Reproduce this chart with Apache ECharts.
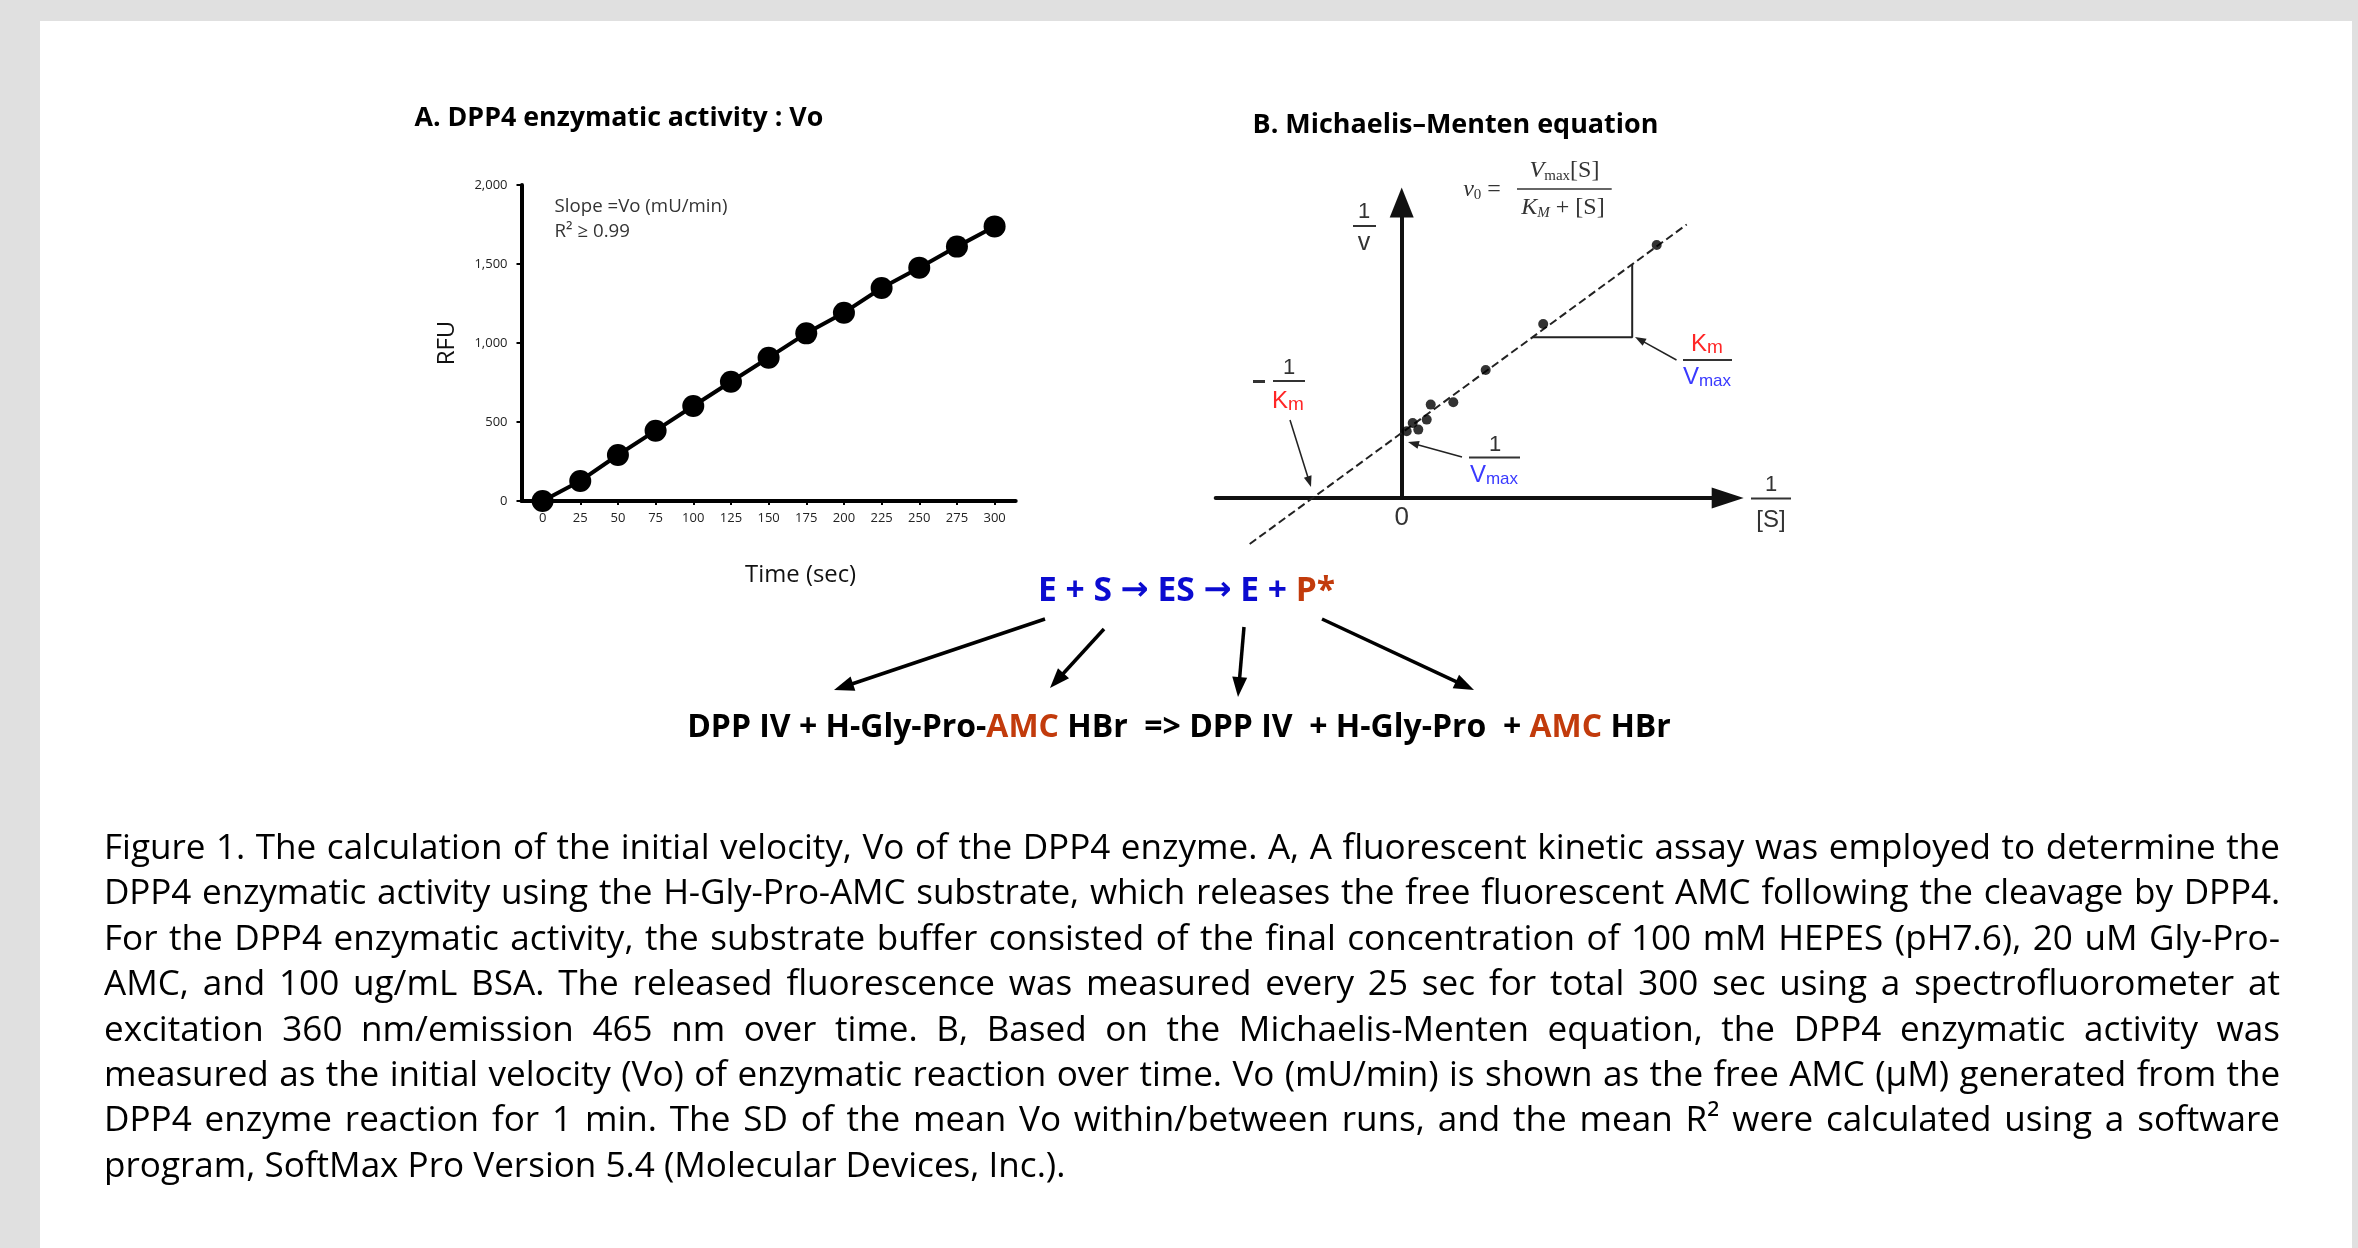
<!DOCTYPE html>
<html><head><meta charset="utf-8">
<script src="https://cdn.jsdelivr.net/npm/echarts@6/dist/echarts.min.js"></script>
<style>
html,body{margin:0;padding:0;background:#e0e0e0;overflow:hidden}
#chart{position:absolute;left:0;top:0;width:2358px;height:1248px}
#caption{position:absolute;left:0;top:0;width:2358px;height:1248px;pointer-events:none}
.cl{position:absolute;left:104px;width:2176px;height:45px;line-height:45px;text-align:justify;text-align-last:justify;color:#000;font-family:'Open Sans','Noto Sans',sans-serif;white-space:nowrap}
</style></head><body>
<div id="chart"></div><div id="caption"></div>
<script>
// ---------- data ----------
const timeSec = [0,25,50,75,100,125,150,175,200,225,250,275,300];
const rfu = [0,127,291,445,601,755,907,1061,1192,1348,1477,1610,1738];
const rfuTicks = [0,500,1000,1500,2000];
const invS = [2.55,1.415,0.84,0.516,0.29,0.25,0.166,0.11,0.05];
const invV = [2.53,1.74,1.28,0.957,0.934,0.784,0.684,0.75,0.667];
const fitInvS = [-1.52, 2.85];
const fitInvV = [-0.46, 2.735];
const slopeInvS = [1.305, 2.305, 2.305];
const slopeInvV = [1.607, 1.607, 2.34];
const captionLines = [
 "Figure 1. The calculation of the initial velocity, Vo of the DPP4 enzyme. A, A fluorescent kinetic assay was employed to determine the",
 "DPP4 enzymatic activity using the H-Gly-Pro-AMC substrate, which releases the free fluorescent AMC following the cleavage by DPP4.",
 "For the DPP4 enzymatic activity, the substrate buffer consisted of the final concentration of 100 mM HEPES (pH7.6), 20 uM Gly-Pro-",
 "AMC, and 100 ug/mL BSA. The released fluorescence was measured every 25 sec for total 300 sec using a spectrofluorometer at",
 "excitation 360 nm/emission 465 nm over time. B, Based on the Michaelis-Menten equation, the DPP4 enzymatic activity was",
 "measured as the initial velocity (Vo) of enzymatic reaction over time. Vo (mU/min) is shown as the free AMC (\u03bcM) generated from the",
 "DPP4 enzyme reaction for 1 min. The SD of the mean Vo within/between runs, and the mean R\u00b2 were calculated using a software",
 "program, SoftMax Pro Version 5.4 (Molecular Devices, Inc.)."
];
const captionCenters = [845, 890, 936, 981, 1027, 1072, 1117, 1163];

// ---------- helpers ----------
const CAL = "'Open Sans','Noto Sans',sans-serif";
const ARI = "'Liberation Sans',Arial,sans-serif";
const SER = "'Liberation Serif','DejaVu Serif',serif";
const ARR = "'DejaVu Sans',sans-serif";
const RED = '#ff2626', BLUE = '#3a3aff', DARK = '#333333';
const RBLUE = '#0b0bd0', ORG = '#c23b0c';
const mctx = document.createElement('canvas').getContext('2d');
function tw(t, size, weight, family, fstyle){ mctx.font = (fstyle||'normal')+' '+(weight||'normal')+' '+size+'px '+family; return mctx.measureText(t).width; }
function fitSize(t, weight, family, target){ return 100*target/tw(t,100,weight,family); }
function txt(x,y,t,o){ return {type:'text', x:x, y:y, z:10, style:Object.assign({text:t, fill:'#000', fontSize:20, fontFamily:CAL, align:'left', verticalAlign:'middle'}, o||{})}; }
function seg(x1,y1,x2,y2,w,c){ return {type:'line', z:10, shape:{x1:x1,y1:y1,x2:x2,y2:y2}, style:{stroke:c||'#000', lineWidth:w}}; }
function seq(cx, cy, parts){
  const ws = parts.map(p=>tw(p.t,p.size,p.weight,p.family||ARI,p.fstyle));
  let x = cx - ws.reduce((a,b)=>a+b,0)/2;
  return parts.map((p,i)=>{ const e = txt(x, cy+(p.dy||0), p.t, {fill:p.fill||DARK, fontSize:p.size, fontFamily:p.family||ARI, fontWeight:p.weight||'normal', fontStyle:p.fstyle||'normal'}); x+=ws[i]; return e; });
}
function arrow(x1,y1,x2,y2,lw,hl,hw,c){
  const dx=x2-x1, dy=y2-y1, L=Math.hypot(dx,dy), ux=dx/L, uy=dy/L;
  const bx=x2-ux*hl, by=y2-uy*hl, px=-uy, py=ux;
  return [
    seg(x1,y1,bx+ux*2,by+uy*2,lw,c),
    {type:'polygon', z:10, shape:{points:[[x2,y2],[bx+px*hw/2,by+py*hw/2],[bx-px*hw/2,by-py*hw/2]]}, style:{fill:c}}
  ];
}
const zip = (a,b)=>a.map((v,i)=>[v,b[i]]);

// ---------- caption (justified lines) ----------
(function(){
  const lastIdx = captionLines.length-1;
  let fs = 100*962/tw(captionLines[lastIdx],100,'normal',CAL);
  fs = Math.max(24, Math.min(36, fs));
  const cap = document.getElementById('caption');
  captionLines.forEach((t,i)=>{
    const d = document.createElement('div');
    d.className='cl';
    d.style.top = (captionCenters[i]-22.5)+'px';
    d.style.fontSize = fs+'px';
    if (i===lastIdx) { d.style.textAlignLast='left'; d.style.textAlign='left'; }
    else {
      const w = tw(t,fs,'normal',CAL);
      const lim = 2176*0.985;
      if (w > lim) d.style.letterSpacing = ((lim - w)/t.length).toFixed(3)+'px';
    }
    d.textContent = t;
    cap.appendChild(d);
  });
})();

// ---------- graphics ----------
const titleA = 'A. DPP4 enzymatic activity : Vo';
const titleB = 'B. Michaelis\u2013Menten equation';
const reactBot = 'DPP IV + H-Gly-Pro-AMC HBr  => DPP IV  + H-Gly-Pro  + AMC HBr';
const sTA = fitSize(titleA,'bold',CAL,409);
const sTB = fitSize(titleB,'bold',CAL,406);
const rtW100 = tw('E + S ',100,'bold',CAL)+tw(' ES ',100,'bold',CAL)+tw(' E + ',100,'bold',CAL)+tw('P*',100,'bold',CAL)+2*tw('\u2192',100,'bold',ARR);
const sRT = 100*297/rtW100;
const sRB = fitSize(reactBot,'bold',CAL,984);
const sSlope = fitSize('Slope =Vo (mU/min)','normal',CAL,173);
const sTime = fitSize('Time (sec)','normal',CAL,111);

let G = [
  {type:'rect', z:0, shape:{x:40,y:21,width:2312,height:1300}, style:{fill:'#ffffff'}},
  txt(414.5,118,titleA,{fontSize:sTA,fontWeight:'bold'}),
  txt(1252.6,125,titleB,{fontSize:sTB,fontWeight:'bold'}),
  txt(554.6,207,'Slope =Vo (mU/min)',{fontSize:sSlope,fill:'#333'}),
  txt(554.6,232,'R\u00b2 \u2265 0.99',{fontSize:sSlope,fill:'#333'}),
  {type:'text', x:1186.5, y:591, z:10, style:{text:'{b|E + S }{a|\u2192}{b| ES }{a|\u2192}{b| E + }{o|P*}', align:'center', verticalAlign:'middle',
    rich:{b:{fill:RBLUE,color:RBLUE,fontSize:sRT,fontWeight:'bold',fontFamily:CAL},
          a:{fill:RBLUE,color:RBLUE,fontSize:sRT,fontWeight:'bold',fontFamily:ARR},
          o:{fill:ORG,color:ORG,fontSize:sRT,fontWeight:'bold',fontFamily:CAL}}}},
  {type:'text', x:1179, y:728, z:10, style:{text:'{k|DPP IV + H-Gly-Pro-}{o|AMC}{k| HBr  => DPP IV  + H-Gly-Pro  + }{o|AMC}{k| HBr}', align:'center', verticalAlign:'middle',
    rich:{k:{fill:'#000',color:'#000',fontSize:sRB,fontWeight:'bold',fontFamily:CAL}, o:{fill:ORG,color:ORG,fontSize:sRB,fontWeight:'bold',fontFamily:CAL}}}}
];
// reaction arrows
G = G.concat(arrow(1045,619,834,690,3.5,20,15,'#000'));
G = G.concat(arrow(1104,629,1050,688,3.5,20,15,'#000'));
G = G.concat(arrow(1244,627,1238,697,3.5,20,15,'#000'));
G = G.concat(arrow(1322,619,1474,690,3.5,20,15,'#000'));
// panel B annotations
G = G.concat(seq(1364,212,[{t:'1',size:22}]));
G.push(seg(1353,226,1376,226,2,DARK));
G = G.concat(seq(1364,243,[{t:'v',size:25}]));
G.push(seg(1253,381.5,1265,381.5,3,DARK));
G = G.concat(seq(1289,368,[{t:'1',size:22}]));
G.push(seg(1273,381,1305,381,2,DARK));
G = G.concat(seq(1288,401,[{t:'K',size:24,fill:RED},{t:'m',size:19,fill:RED,dy:4}]));
G = G.concat(arrow(1290,420,1311,487,1.5,11,8,'#222'));
G = G.concat(seq(1401.7,517.5,[{t:'0',size:26}]));
G = G.concat(seq(1495,445,[{t:'1',size:22}]));
G.push(seg(1469,457.5,1520,457.5,2,DARK));
G = G.concat(seq(1494,475,[{t:'V',size:24,fill:BLUE},{t:'max',size:17,fill:BLUE,dy:4}]));
G = G.concat(arrow(1462,457,1408,442,1.5,11,8,'#222'));
G = G.concat(seq(1707,344,[{t:'K',size:24,fill:RED},{t:'m',size:19,fill:RED,dy:4}]));
G.push(seg(1683,360,1732,360,2,DARK));
G = G.concat(seq(1707,377,[{t:'V',size:24,fill:BLUE},{t:'max',size:17,fill:BLUE,dy:4}]));
G = G.concat(arrow(1676.5,360,1635,337,1.5,11,8,'#222'));
G = G.concat(seq(1771,485,[{t:'1',size:22}]));
G.push(seg(1751,498.5,1791,498.5,2,DARK));
G = G.concat(seq(1771,520,[{t:'[S]',size:24}]));
// equation v0 = Vmax[S]/(KM+[S])
G = G.concat(seq(1485,190,[{t:'v',size:24,family:SER,fstyle:'italic'},{t:'0',size:15,family:SER,dy:5},{t:' = ',size:24,family:SER}]));
G.push(seg(1517,189,1611.7,189,1.5,DARK));
G = G.concat(seq(1564.5,171,[{t:'V',size:24,family:SER,fstyle:'italic'},{t:'max',size:15,family:SER,dy:5},{t:'[S]',size:24,family:SER}]));
G = G.concat(seq(1563,208,[{t:'K',size:24,family:SER,fstyle:'italic'},{t:'M',size:15,family:SER,fstyle:'italic',dy:5},{t:' + [S]',size:24,family:SER}]));

// ---------- chart ----------
const chart = echarts.init(document.getElementById('chart'), null, {renderer:'canvas'});
chart.setOption({
  animation:false,
  backgroundColor:'#e0e0e0',
  grid:[
    {left:521.5, top:185, width:494.2, height:316},
    {left:1215.7, top:202.5, width:512, height:295.5}
  ],
  xAxis:[
    {gridIndex:0, type:'value', min:-14, max:314,
     axisLine:{show:true, onZero:false, lineStyle:{color:'#000', width:4}},
     axisTick:{show:true, customValues:timeSec, length:4, lineStyle:{color:'#000', width:2}},
     axisLabel:{customValues:timeSec, fontSize:13, color:'#222', fontFamily:CAL, margin:11},
     splitLine:{show:false},
     name:'Time (sec)', nameLocation:'middle', nameGap:62,
     nameTextStyle:{fontSize:sTime, color:'#111', fontFamily:CAL, padding:[0,0,0,64]}},
    {gridIndex:1, type:'value', min:-1.86, max:3.26,
     axisLine:{show:true, onZero:true, symbol:['none','triangle'], symbolSize:[21,32], lineStyle:{color:'#111', width:4}},
     axisTick:{show:false}, axisLabel:{show:false}, splitLine:{show:false}}
  ],
  yAxis:[
    {gridIndex:0, type:'value', min:0, max:2000, interval:500,
     axisLine:{show:true, onZero:false, lineStyle:{color:'#000', width:4}},
     axisTick:{show:true, length:5, lineStyle:{color:'#000', width:2}},
     axisLabel:{formatter:v=>v.toLocaleString('en-US'), fontSize:13, color:'#222', fontFamily:CAL, margin:14},
     splitLine:{show:false},
     name:'RFU', nameLocation:'middle', nameGap:62, nameRotate:90,
     nameTextStyle:{fontSize:24, color:'#111', fontFamily:CAL}},
    {gridIndex:1, type:'value', min:0, max:2.955,
     axisLine:{show:true, onZero:true, symbol:['none','triangle'], symbolSize:[24,30], lineStyle:{color:'#111', width:4}},
     axisTick:{show:false}, axisLabel:{show:false}, splitLine:{show:false}}
  ],
  series:[
    {type:'line', xAxisIndex:0, yAxisIndex:0, data:zip(timeSec,rfu), symbol:'circle', symbolSize:22,
     itemStyle:{color:'#000'}, lineStyle:{color:'#000', width:4}, z:5},
    {type:'line', xAxisIndex:1, yAxisIndex:1, data:zip(fitInvS,fitInvV), symbol:'none', clip:false,
     lineStyle:{color:'#222', width:2, type:[8,4]}, z:3},
    {type:'line', xAxisIndex:1, yAxisIndex:1, data:zip(slopeInvS,slopeInvV), symbol:'none', clip:false,
     lineStyle:{color:'#222', width:2}, z:3},
    {type:'scatter', xAxisIndex:1, yAxisIndex:1, data:zip(invS,invV), symbol:'circle', symbolSize:10,
     itemStyle:{color:'#000'}, z:4}
  ],
  graphic:G
});
</script></body></html>
